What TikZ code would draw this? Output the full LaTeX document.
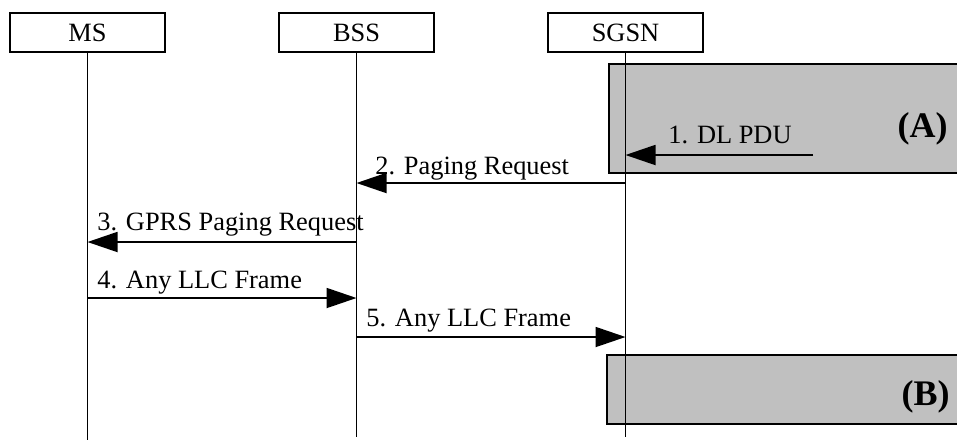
\documentclass[tikz,border=0pt]{standalone}
\usepackage{fontspec}
\setmainfont{Liberation Serif}
\usetikzlibrary{arrows.meta}
\definecolor{boxgray}{HTML}{C0C0C0}
\begin{document}
\begin{tikzpicture}[x=0.5pt,y=-0.5pt,
  entity/.style={draw, line width=1pt, minimum width=77.5pt, minimum height=19.5pt, inner sep=0pt, font=\fontsize{13.2}{15}\selectfont},
  lifeline/.style={line width=0.5pt},
  msg/.style={line width=0.9pt, -{Triangle[length=15pt,width=10pt]}},
  msglabel/.style={anchor=base west, inner sep=0pt, font=\fontsize{13.2}{15}\selectfont},
  phase/.style={draw, line width=1pt, fill=boxgray},
  phaselabel/.style={anchor=base east, inner sep=0pt, font=\fontsize{18}{20}\selectfont\bfseries}
]
\useasboundingbox (0,0) rectangle (957,446);
\begin{scope}
\clip (0,0) rectangle (957,446);
% phase boxes
\node[phase, anchor=north west, minimum width=180pt, minimum height=54.5pt, inner sep=0pt] (boxA) at (608,63) {};
\node[phase, anchor=north west, minimum width=180pt, minimum height=34.5pt, inner sep=0pt] (boxB) at (606,354) {};
\end{scope}
\node[phaselabel] (labA) at (948,137) {(A)};
\node[phaselabel] (labB) at (950,405) {(B)};
% entities
\node[entity] (ms) at (87.5,32.5) {MS};
\node[entity] (bss) at (356.5,32.5) {BSS};
\node[entity] (sgsn) at (625.5,32.5) {SGSN};
\coordinate (msend) at (87.5,440);
\coordinate (bssend) at (356.5,437);
\coordinate (sgsnend) at (625.5,437);
\draw[lifeline] (ms.south) -- (msend);
\draw[lifeline] (bss.south) -- (bssend);
\draw[lifeline] (sgsn.south) -- (sgsnend);
% message points
\coordinate (m1s) at (813,155);
\coordinate (m1e) at (625.5,155);
\coordinate (m2s) at (625.5,183);
\coordinate (m2e) at (356.5,183);
\coordinate (m3s) at (356.5,242);
\coordinate (m3e) at (87.5,242);
\coordinate (m4s) at (87.5,298);
\coordinate (m4e) at (356.5,298);
\coordinate (m5s) at (356.5,337);
\coordinate (m5e) at (625.5,337);
\draw[msg] (m1s) -- (m1e);
\draw[msg] (m2s) -- (m2e);
\draw[msg] (m3s) -- (m3e);
\draw[msg] (m4s) -- (m4e);
\draw[msg] (m5s) -- (m5e);
\node[msglabel] (l1) at (668,143) {1. DL PDU};
\node[msglabel] (l2) at (375,174) {2. Paging Request};
\node[msglabel] (l3) at (97,230) {3. GPRS Paging Request};
\node[msglabel] (l4) at (97,288) {4. Any LLC Frame};
\node[msglabel] (l5) at (366,326) {5. Any LLC Frame};
\end{tikzpicture}
\end{document}
